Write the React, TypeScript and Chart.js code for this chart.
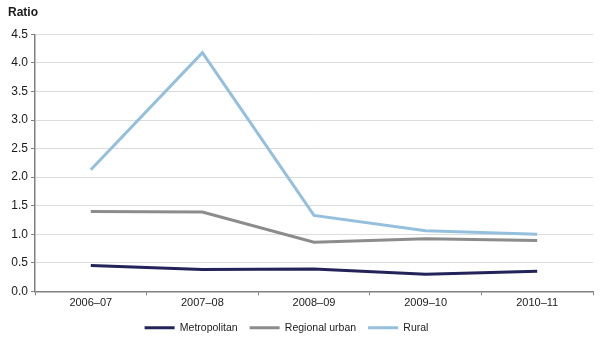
import React, { useEffect, useRef } from "react";
import { Chart, registerables } from "chart.js";

Chart.register(...registerables);

const categories = ["2006–07", "2007–08", "2008–09", "2009–10", "2010–11"];
const metropolitan = [0.45, 0.38, 0.39, 0.3, 0.35];
const regionalUrban = [1.4, 1.39, 0.86, 0.92, 0.89];
const rural = [2.13, 4.18, 1.33, 1.06, 1.0];
const seriesNames = ["Metropolitan", "Regional urban", "Rural"];
const yTicks = [0, 0.5, 1, 1.5, 2, 2.5, 3, 3.5, 4, 4.5];

const FONT = "'Liberation Sans', Arial, sans-serif";

const legendShift = {
  id: "legendShift",
  afterLayout(chart: any) {
    if (chart.legend) {
      chart.legend.left -= 14;
      chart.legend.right -= 14;
    }
  },
};

export default function App() {
  const ref = useRef<HTMLCanvasElement | null>(null);

  useEffect(() => {
    if (!ref.current) return;
    document.body.style.margin = "0";
    const colors = ["#23235a", "#8c8c8c", "#94c0dd"];
    const data = [metropolitan, regionalUrban, rural];
    const chart = new Chart(ref.current, {
      type: "line",
      data: {
        labels: categories,
        datasets: seriesNames.map((name, i) => ({
          label: name,
          data: data[i],
          borderColor: colors[i],
          backgroundColor: colors[i],
          borderWidth: 3,
          pointRadius: 0,
          tension: 0,
        })),
      },
      plugins: [legendShift],
      options: {
        animation: false,
        responsive: false,
        maintainAspectRatio: false,
        layout: { padding: { left: 8, right: 15, top: 0, bottom: 0 } },
        plugins: {
          title: {
            display: true,
            text: "Ratio",
            align: "start",
            color: "#1a1a1a",
            font: { family: FONT, size: 12, weight: "bold" },
            padding: { top: 5, bottom: 15 },
          },
          legend: {
            position: "bottom",
            labels: {
              boxWidth: 30,
              boxHeight: 3,
              padding: 12,
              color: "#1a1a1a",
              font: { family: FONT, size: 10.5 },
              generateLabels: (c: any) =>
                Chart.defaults.plugins.legend.labels
                  .generateLabels(c)
                  .map((l: any) => ({ ...l, lineWidth: 0, fillStyle: l.strokeStyle })),
            },
          },
          tooltip: { enabled: false },
        },
        scales: {
          x: {
            offset: true,
            grid: {
              offset: true,
              drawOnChartArea: false,
              drawTicks: true,
              tickLength: 4,
              tickColor: "#808080",
            },
            border: { color: "#808080", width: 1.5 },
            ticks: {
              color: "#1a1a1a",
              font: { family: FONT, size: 11 },
              padding: 1,
              maxRotation: 0,
            },
          },
          y: {
            min: 0,
            max: 4.5,
            afterFit: (s: any) => {
              s.width = 27;
            },
            afterBuildTicks: (s: any) => {
              s.ticks = yTicks.map((v) => ({ value: v }));
            },
            grid: {
              color: "#dcdcdc",
              tickColor: "#808080",
              tickLength: 4,
              lineWidth: 1,
            },
            border: { color: "#808080", width: 1.5 },
            ticks: {
              color: "#1a1a1a",
              font: { family: FONT, size: 12 },
              padding: 3,
              callback: (v: any) => Number(v).toFixed(1),
            },
          },
        },
      },
    });
    return () => chart.destroy();
  }, []);

  return (
    <div style={{ position: "absolute", left: 0, top: 0, width: 608, height: 343 }}>
      <canvas ref={ref} width={608} height={343} style={{ width: 608, height: 343 }} />
    </div>
  );
}
